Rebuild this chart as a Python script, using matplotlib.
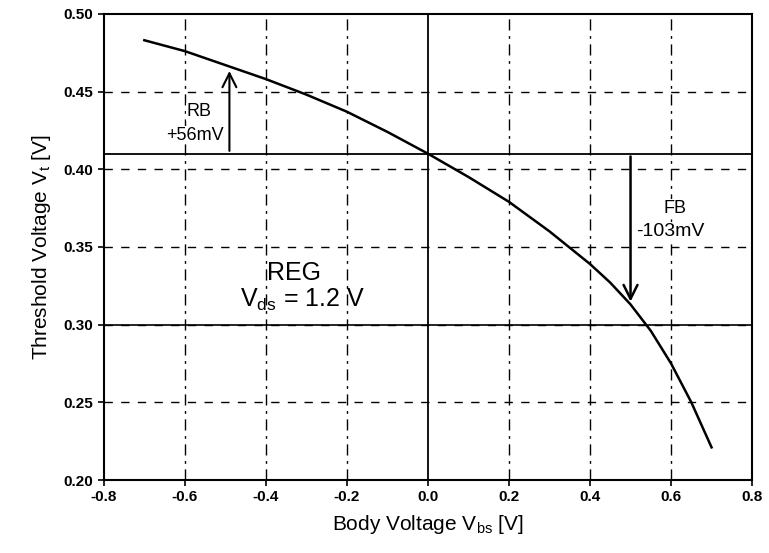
import matplotlib.pyplot as plt
import numpy as np

plt.rcParams['font.family'] = ['Liberation Sans', 'DejaVu Sans']

# curve
vbs = [-0.7, -0.6, -0.5, -0.4, -0.3, -0.2, -0.1, 0.0, 0.1, 0.2, 0.3, 0.4, 0.45, 0.5, 0.55, 0.6, 0.65, 0.7]
vt = [0.483, 0.476, 0.467, 0.458, 0.448, 0.437, 0.424, 0.410, 0.395, 0.379, 0.360, 0.339, 0.327, 0.313, 0.296, 0.275, 0.250, 0.221]

v_reg = 0.41
rb_x, rb_top = -0.49, 0.465
fb_x, fb_bot = 0.5, 0.313

xticks = [-0.8, -0.6, -0.4, -0.2, 0.0, 0.2, 0.4, 0.6, 0.8]
yticks = [0.20, 0.25, 0.30, 0.35, 0.40, 0.45, 0.50]

fig = plt.figure(figsize=(7.69, 5.53), dpi=100)
ax = fig.add_axes([0.135, 0.132, 0.843, 0.843])

ax.set_xlim(-0.8, 0.8)
ax.set_ylim(0.20, 0.50)

# dashed grid
for x in xticks[1:-1]:
    if x != 0.0:
        ax.axvline(x, color='k', lw=1.0, ls=(0, (8, 4, 2, 4)), zorder=1)
for y in yticks[1:-1]:
    ax.axhline(y, color='k', lw=1.0, ls=(0, (6, 6)), zorder=1)
ax.axhline(0.30, color='k', lw=1.2, zorder=1)

ax.axvline(0.0, color='k', lw=1.3, zorder=2)
ax.axhline(v_reg, color='k', lw=1.3, zorder=2)

ax.plot(vbs, vt, color='k', lw=1.8, zorder=3)

ax.annotate('', xy=(rb_x, rb_top), xytext=(rb_x, v_reg),
            arrowprops=dict(arrowstyle='->', color='k', lw=1.5, mutation_scale=25))
ax.annotate('', xy=(fb_x, fb_bot), xytext=(fb_x, v_reg),
            arrowprops=dict(arrowstyle='->', color='k', lw=1.8, mutation_scale=25))

box = dict(facecolor='white', edgecolor='none', pad=0.5)
ax.text(-0.565, 0.437, 'RB', ha='center', va='center', fontsize=13, bbox=box)
ax.text(-0.575, 0.422, '+56mV', ha='center', va='center', fontsize=13, bbox=box)
ax.text(0.61, 0.375, 'FB', ha='center', va='center', fontsize=13, bbox=box)
ax.text(0.515, 0.360, '-103mV', ha='left', va='center', fontsize=14, bbox=box)
ax.text(-0.33, 0.333, 'REG', ha='center', va='center', fontsize=18)
ax.text(-0.31, 0.316, '$\\mathregular{V_{ds}}$ = 1.2 V', ha='center', va='center', fontsize=18)

ax.set_xticks(xticks)
ax.set_xticklabels(['%.1f' % x for x in xticks])
ax.set_yticks(yticks)
ax.set_yticklabels(['%.2f' % y for y in yticks])
ax.tick_params(direction='out', length=4, width=1.2, labelsize=11)
for lbl in ax.get_xticklabels() + ax.get_yticklabels():
    lbl.set_fontweight('bold')
for s in ax.spines.values():
    s.set_linewidth(1.5)

ax.set_xlabel('Body Voltage $\\mathregular{V_{bs}}$ [V]', fontsize=15, labelpad=6)
ax.set_ylabel('Threshold Voltage $\\mathregular{V_t}$ [V]', fontsize=15, labelpad=8)

fig.savefig('out.png', dpi=100)
